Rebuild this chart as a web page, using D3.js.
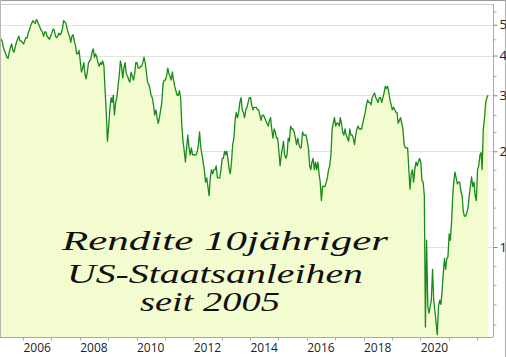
<!DOCTYPE html>
<html><head><meta charset="utf-8">
<script src="https://cdn.jsdelivr.net/npm/d3@7"></script>
<style>html,body{margin:0;padding:0;background:#fff;}svg{display:block;}</style>
</head><body>
<script>
// Semi-monthly 10y US Treasury yields (%), starting March 2005 (two readings per month: ~8th and ~23rd)
const startYear = 2005, startMonth = 2; // March (0-based)
const yields = [
  // 2005 Mar-Dec
  4.60,4.50, 4.45,4.25, 4.15,4.05, 3.95,3.92, 4.10,4.25, 4.35,4.15, 4.10,4.25, 4.40,4.50, 4.60,4.45, 4.45,4.40,
  // 2006
  4.35,4.45, 4.55,4.55, 4.70,4.80, 4.95,5.05, 5.15,5.10, 5.05,5.20, 5.10,5.00, 4.90,4.80, 4.75,4.60, 4.75,4.75, 4.60,4.55, 4.50,4.62,
  // 2007
  4.70,4.85, 4.80,4.60, 4.55,4.60, 4.70,4.65, 4.70,4.85, 5.15,5.10, 5.05,4.85, 4.70,4.60, 4.40,4.60, 4.65,4.45, 4.30,4.05, 4.05,4.15,
  // 2008
  3.85,3.55, 3.65,3.80, 3.50,3.38, 3.55,3.80, 3.85,3.90, 4.10,4.20, 3.95,4.05, 3.95,3.80, 3.70,3.80, 3.75,3.85, 3.70,3.10, 2.65,2.15,
  // 2009
  2.40,2.70, 2.95,2.85, 3.00,2.60, 2.85,2.95, 3.20,3.45, 3.85,3.70, 3.40,3.65, 3.80,3.50, 3.45,3.35, 3.30,3.55, 3.45,3.35, 3.50,3.80,
  // 2010
  3.80,3.65, 3.65,3.70, 3.70,3.80, 3.95,3.80, 3.55,3.30, 3.25,3.15, 3.00,2.95, 2.80,2.60, 2.70,2.55, 2.45,2.55, 2.70,2.85, 3.25,3.35,
  // 2011
  3.35,3.45, 3.65,3.50, 3.45,3.35, 3.55,3.35, 3.20,3.10, 3.00,3.00, 3.10,2.95, 2.40,2.15, 2.00,1.85, 2.05,2.25, 2.05,1.95, 2.05,1.95,
  // 2012
  1.95,1.95, 1.95,2.00, 2.10,2.30, 2.05,1.95, 1.85,1.75, 1.60,1.65, 1.55,1.45, 1.65,1.75, 1.70,1.75, 1.75,1.80, 1.65,1.65, 1.65,1.75,
  // 2013
  1.90,1.90, 2.00,1.95, 2.00,1.90, 1.75,1.70, 1.85,2.10, 2.20,2.50, 2.65,2.55, 2.65,2.85, 2.95,2.70, 2.65,2.55, 2.70,2.75, 2.85,2.95,
  // 2014
  2.95,2.80, 2.70,2.75, 2.75,2.75, 2.70,2.70, 2.60,2.50, 2.60,2.60, 2.55,2.50, 2.45,2.40, 2.50,2.55, 2.35,2.20, 2.35,2.30, 2.20,2.20,
  // 2015
  2.00,1.80, 1.95,2.05, 2.15,1.95, 1.90,1.95, 2.20,2.15, 2.40,2.35, 2.35,2.30, 2.20,2.10, 2.20,2.10, 2.05,2.05, 2.30,2.25, 2.25,2.25,
  // 2016
  2.15,2.05, 1.80,1.75, 1.85,1.90, 1.75,1.85, 1.75,1.85, 1.70,1.60, 1.40,1.55, 1.55,1.55, 1.60,1.65, 1.75,1.80, 1.95,2.35, 2.45,2.55,
  // 2017
  2.40,2.45, 2.45,2.40, 2.55,2.45, 2.30,2.25, 2.35,2.25, 2.20,2.15, 2.35,2.25, 2.25,2.20, 2.10,2.25, 2.35,2.40, 2.35,2.35, 2.35,2.45,
  // 2018
  2.55,2.65, 2.80,2.90, 2.85,2.85, 2.80,2.95, 3.00,3.05, 2.95,2.90, 2.85,2.95, 2.95,2.85, 2.95,3.05, 3.20,3.15, 3.20,3.05, 2.90,2.80,
  // 2019
  2.70,2.75, 2.70,2.65, 2.65,2.45, 2.50,2.55, 2.45,2.35, 2.10,2.05, 2.05,2.05, 1.75,1.52, 1.70,1.75, 1.60,1.75, 1.85,1.80, 1.85,1.90,
  // 2020
  1.85,1.62, 1.60,1.45, 0.56,1.05, 0.65,0.62, 0.65,0.68, 0.85,0.68, 0.63,0.58, 0.53,0.65, 0.68,0.66, 0.72,0.82, 0.92,0.85, 0.92,0.93,
  // 2021
  1.10,1.05, 1.20,1.45, 1.60,1.72, 1.65,1.58, 1.60,1.60, 1.50,1.45, 1.30,1.25, 1.25,1.28, 1.33,1.45, 1.55,1.66, 1.55,1.60, 1.45,1.40,
  // 2022 Jan-May
  1.75,1.80, 1.95,1.98, 1.75,2.35, 2.55,2.85, 2.95,3.00
];
const majorTicks = [1, 2, 3, 4, 5];
const minorTicks = [0.57, 0.66, 0.76, 0.87, 1.15, 1.33, 1.52, 1.75, 2.3, 2.6, 3.45, 4.5, 5.5];
const yearTicks = d3.range(2006, 2023);
const yearLabels = [2006, 2008, 2010, 2012, 2014, 2016, 2018, 2020];
const titleLines = ["Rendite 10jähriger", "US-Staatsanleihen", "seit 2005"];

const W = 506, H = 357;
const plot = {left: 1, right: 493, top: 4, bottom: 337};

const dates = yields.map((v, i) => new Date(Date.UTC(startYear, startMonth + Math.floor(i / 2), i % 2 === 0 ? 8 : 23)));
const data = yields.map((v, i) => ({d: dates[i], v}));

const x = d3.scaleUtc()
  .domain([new Date(Date.UTC(2006,0,1)), new Date(Date.UTC(2022,0,1))])
  .range([23, 477]);
const y = d3.scaleLog()
  .domain([Math.pow(10, (247 - plot.bottom) / 318), Math.pow(10, (247 - plot.top) / 318)])
  .range([plot.bottom, plot.top]);

const svg = d3.select("body").append("svg").attr("width", W).attr("height", H);
const defs = svg.append("defs");
defs.append("clipPath").attr("id", "clip").append("rect")
  .attr("x", plot.left).attr("y", plot.top).attr("width", plot.right - plot.left).attr("height", plot.bottom - plot.top);
const pat = defs.append("pattern").attr("id", "stripes").attr("patternUnits", "userSpaceOnUse")
  .attr("width", 3).attr("height", 10);
pat.append("rect").attr("width", 3).attr("height", 10).attr("fill", "#f1fcca");
pat.append("rect").attr("x", 2).attr("width", 1).attr("height", 10).attr("fill", "#f6fdda");

svg.append("rect").attr("width", W).attr("height", H).attr("fill", "#fff");

// grid
svg.append("g").selectAll("line").data(majorTicks).join("line")
  .attr("x1", plot.left).attr("x2", plot.right)
  .attr("y1", d => Math.round(y(d)) + 0.5).attr("y2", d => Math.round(y(d)) + 0.5)
  .attr("stroke", "#e2e2e2").attr("stroke-width", 1);

const g = svg.append("g").attr("clip-path", "url(#clip)");
const area = d3.area().x(d => x(d.d)).y0(plot.bottom).y1(d => y(d.v));
const line = d3.line().x(d => x(d.d)).y(d => y(d.v));
g.append("path").datum(data).attr("d", area).attr("fill", "url(#stripes)");
g.append("path").datum(data).attr("d", line).attr("fill", "none")
  .attr("stroke", "#1a8a1a").attr("stroke-width", 1.3).attr("stroke-linejoin", "round");

// frames
svg.append("line").attr("x1", 0).attr("x2", W).attr("y1", 0.5).attr("y2", 0.5).attr("stroke", "#9a9a9a");
svg.append("line").attr("x1", W - 0.5).attr("x2", W - 0.5).attr("y1", 0).attr("y2", H).attr("stroke", "#b0b0b0");
svg.append("line").attr("x1", 0).attr("x2", plot.right).attr("y1", plot.top + 0.5).attr("y2", plot.top + 0.5).attr("stroke", "#c8c8c8");
svg.append("line").attr("x1", 0.5).attr("x2", 0.5).attr("y1", 0).attr("y2", plot.bottom).attr("stroke", "#b8b8b0");

// right axis
const yAxis = d3.axisRight(y).tickValues(majorTicks).tickSize(4).tickPadding(2).tickFormat(d3.format("d"));
const ya = svg.append("g").attr("transform", `translate(${plot.right + 0.5},0)`).call(yAxis);
ya.select(".domain").attr("stroke", "#a8a8a8").attr("d", `M0,${plot.top}V${plot.bottom}`);
ya.selectAll(".tick line").attr("stroke", "#888");
ya.selectAll("text").attr("font-family", "Open Sans, sans-serif").attr("font-size", 13).attr("fill", "#222");
const yMinor = d3.axisRight(y).tickValues(minorTicks).tickSize(3).tickFormat("");
const ym = svg.append("g").attr("transform", `translate(${plot.right + 0.5},0)`).call(yMinor);
ym.select(".domain").remove();
ym.selectAll(".tick line").attr("stroke", "#aaa");

// bottom axis
const xa = svg.append("g").attr("transform", `translate(0,${plot.bottom + 0.5})`);
xa.append("line").attr("x1", 0).attr("x2", plot.right).attr("stroke", "#a8a8a8");
xa.selectAll("line.tk").data(yearTicks).join("line").attr("class", "tk")
  .attr("x1", d => Math.round(x(new Date(Date.UTC(d,0,1)))) + 0.5)
  .attr("x2", d => Math.round(x(new Date(Date.UTC(d,0,1)))) + 0.5)
  .attr("y1", 0).attr("y2", 3).attr("stroke", "#aaa");
xa.selectAll("text").data(yearLabels).join("text")
  .attr("x", d => x(new Date(Date.UTC(d,6,2))))
  .attr("y", 14).attr("text-anchor", "middle")
  .attr("font-family", "Open Sans, sans-serif").attr("font-size", 12).attr("fill", "#222")
  .text(d => d);

// title text
const tpos = [{x: 62, y: 250, w: 326}, {x: 67, y: 283, w: 296}, {x: 140, y: 311, w: 140}];
svg.append("g").selectAll("text").data(titleLines).join("text")
  .attr("x", (d, i) => tpos[i].x).attr("y", (d, i) => tpos[i].y)
  .attr("textLength", (d, i) => tpos[i].w).attr("lengthAdjust", "spacingAndGlyphs")
  .attr("font-family", "Liberation Serif, serif").attr("font-style", "italic")
  .attr("font-size", 27).attr("fill", "#111")
  .text(d => d);
</script>
</body></html>
